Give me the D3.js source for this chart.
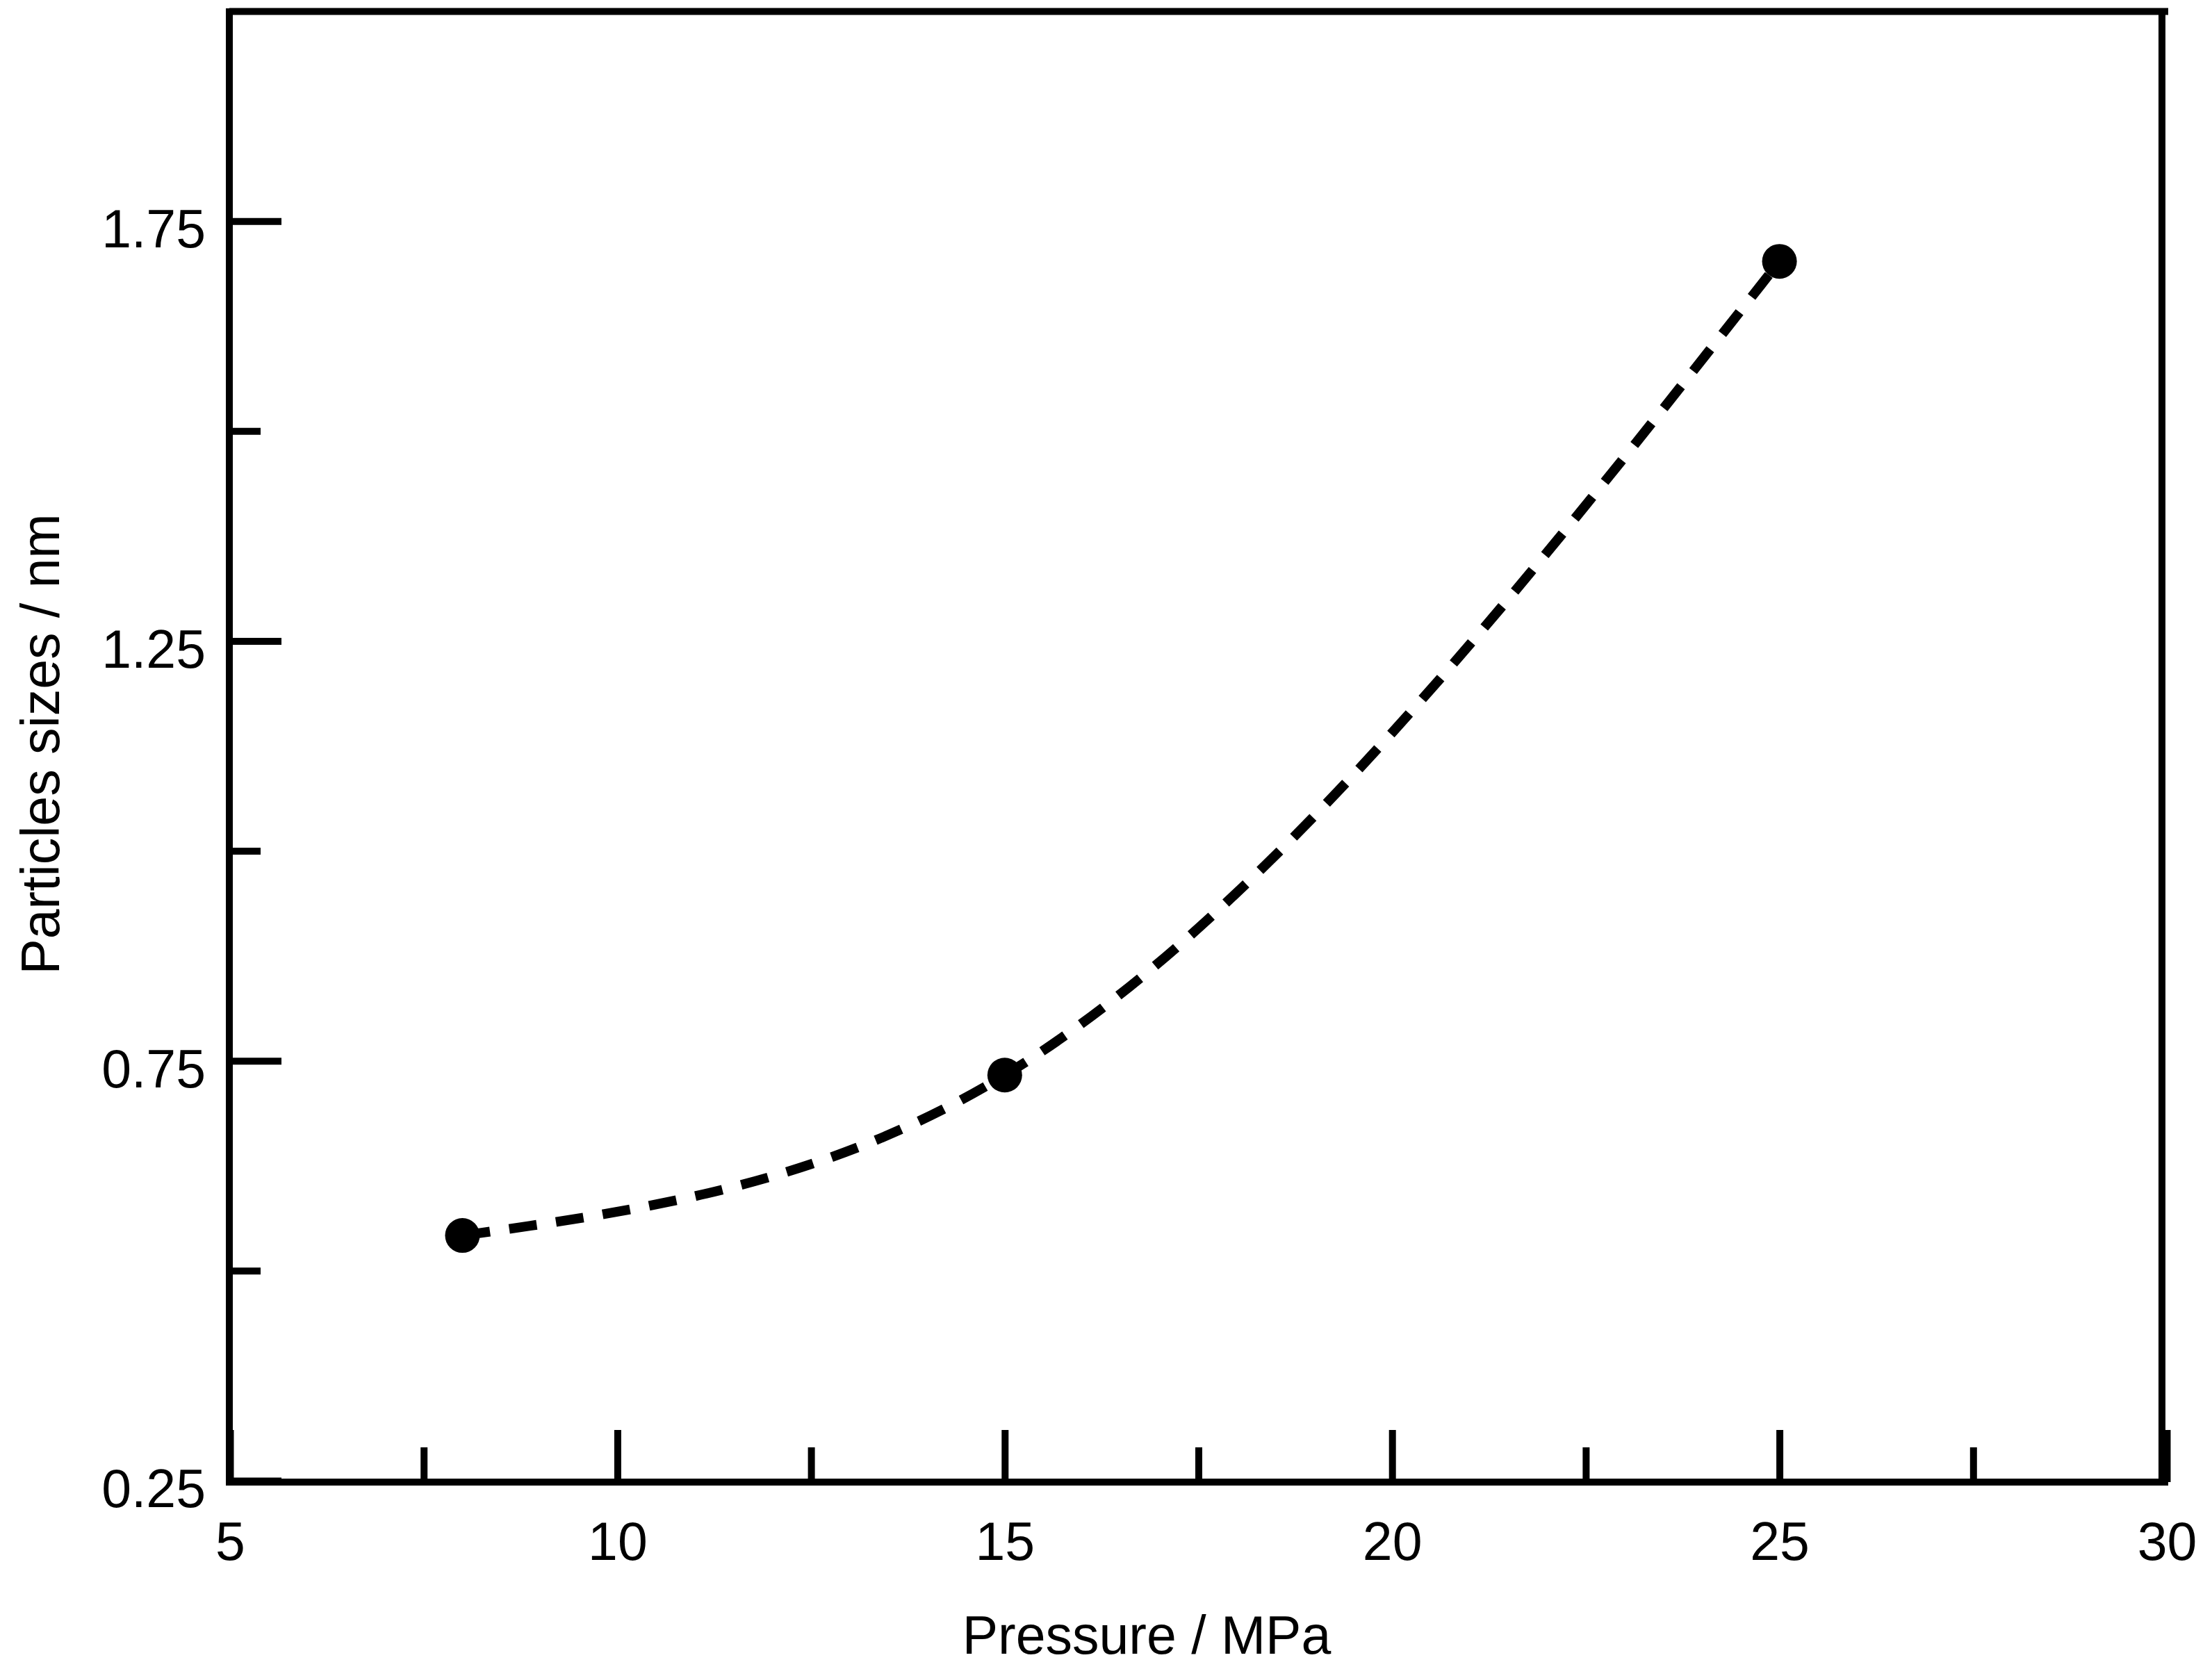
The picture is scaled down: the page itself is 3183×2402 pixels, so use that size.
<!DOCTYPE html>
<html>
<head>
<meta charset="utf-8">
<script src="https://cdn.jsdelivr.net/npm/d3@7"></script>
<style>
  html, body { margin: 0; padding: 0; background: #fff; }
  svg { display: block; }
  text { font-family: "Liberation Sans", Arial, sans-serif; fill: #000; }
</style>
</head>
<body>
<svg id="chart" width="3183" height="2402"></svg>
<script>
// ---- data ----
const pressure = [8, 15, 25];               // MPa
const particleSize = [0.542, 0.733, 1.702]; // nm
const xMajorTicks = [5, 10, 15, 20, 25, 30];
const xMinorTicks = [7.5, 12.5, 17.5, 22.5, 27.5];
const yMajorTicks = [0.25, 0.75, 1.25, 1.75];
const yMinorTicks = [0.5, 1.0, 1.5];
const xTitle = "Pressure / MPa";
const yTitle = "Particles sizes / nm";

(function () {
// ---- layout ----
const mLeft = 330, mRight = 3118, mTop = 16, mBottom = 2131;
const frameRight = 3111, frameBottom = 2133;
const fontSize = 77;
const lw = 10;

const svg = d3.select("#chart");

const x = d3.scaleLinear().domain([5, 30]).range([mLeft + 1, mRight]);
const y = d3.scaleLinear().domain([0.25, 2.0]).range([mBottom, mTop]);

// frame
const frame = svg.append("g").attr("stroke", "#000").attr("stroke-width", lw).attr("fill", "none");
frame.append("line").attr("x1", mLeft).attr("x2", mLeft).attr("y1", mTop - 4).attr("y2", frameBottom + 5);
frame.append("line").attr("x1", mLeft - 5).attr("x2", 3120).attr("y1", frameBottom).attr("y2", frameBottom);
frame.append("line").attr("x1", mLeft).attr("x2", 3120).attr("y1", mTop + 0.5).attr("y2", mTop + 0.5);
frame.append("line").attr("x1", frameRight).attr("x2", frameRight).attr("y1", mTop).attr("y2", frameBottom + 5);

// x axis
const xAxisG = svg.append("g").attr("transform", `translate(0,${frameBottom})`)
  .call(d3.axisBottom(x).tickValues(xMajorTicks).tickFormat(d3.format("d"))
        .tickSizeInner(-75).tickSizeOuter(0).tickPadding(57));
xAxisG.select(".domain").remove();
xAxisG.selectAll(".tick line").attr("stroke", "#000").attr("stroke-width", lw);
xAxisG.selectAll(".tick text").style("font-size", fontSize + "px").attr("fill", "#000")
  .style("font-family", '"Liberation Sans", Arial, sans-serif');

const xMinorG = svg.append("g").attr("transform", `translate(0,${frameBottom})`)
  .call(d3.axisBottom(x).tickValues(xMinorTicks).tickFormat("")
        .tickSizeInner(-50).tickSizeOuter(0));
xMinorG.select(".domain").remove();
xMinorG.selectAll(".tick line").attr("stroke", "#000").attr("stroke-width", lw);

// y axis
const yAxisG = svg.append("g").attr("transform", `translate(${mLeft},0)`)
  .call(d3.axisLeft(y).tickValues(yMajorTicks).tickFormat(d3.format(".2f"))
        .tickSizeInner(-75).tickSizeOuter(0).tickPadding(34));
yAxisG.select(".domain").remove();
yAxisG.selectAll(".tick line").attr("stroke", "#000").attr("stroke-width", lw);
yAxisG.selectAll(".tick text").style("font-size", fontSize + "px").attr("fill", "#000")
  .attr("dy", "0.49em")
  .style("font-family", '"Liberation Sans", Arial, sans-serif');

const yMinorG = svg.append("g").attr("transform", `translate(${mLeft},0)`)
  .call(d3.axisLeft(y).tickValues(yMinorTicks).tickFormat("")
        .tickSizeInner(-45).tickSizeOuter(0));
yMinorG.select(".domain").remove();
yMinorG.selectAll(".tick line").attr("stroke", "#000").attr("stroke-width", lw);

// titles
svg.append("text").attr("x", 1650).attr("y", 2380).attr("text-anchor", "middle")
  .style("font-size", fontSize + "px").text(xTitle);
svg.append("text").attr("transform", `translate(85,1071) rotate(-90)`).attr("text-anchor", "middle")
  .style("font-size", fontSize + "px").text(yTitle);

// natural cubic spline in x (functional), expressed as bezier segments
function curveNaturalX(context) {
  let xs = [], ys = [];
  return {
    areaStart() {}, areaEnd() {},
    lineStart() { xs = []; ys = []; },
    point(px, py) { xs.push(+px); ys.push(+py); },
    lineEnd() {
      const n = xs.length;
      if (!n) return;
      context.moveTo(xs[0], ys[0]);
      if (n === 2) { context.lineTo(xs[1], ys[1]); return; }
      const h = [], s = [];
      for (let i = 0; i < n - 1; i++) { h[i] = xs[i + 1] - xs[i]; s[i] = (ys[i + 1] - ys[i]) / h[i]; }
      const M = new Array(n).fill(0);
      const a = [], b = [], c = [], d = [];
      for (let i = 1; i < n - 1; i++) {
        a[i] = h[i - 1]; b[i] = 2 * (h[i - 1] + h[i]); c[i] = h[i]; d[i] = 6 * (s[i] - s[i - 1]);
      }
      for (let i = 2; i < n - 1; i++) {
        const w = a[i] / b[i - 1]; b[i] -= w * c[i - 1]; d[i] -= w * d[i - 1];
      }
      M[n - 2] = d[n - 2] / b[n - 2];
      for (let i = n - 3; i >= 1; i--) M[i] = (d[i] - c[i] * M[i + 1]) / b[i];
      for (let i = 0; i < n - 1; i++) {
        const d0 = s[i] - h[i] * (2 * M[i] + M[i + 1]) / 6;
        const d1 = s[i] + h[i] * (M[i] + 2 * M[i + 1]) / 6;
        context.bezierCurveTo(xs[i] + h[i] / 3, ys[i] + d0 * h[i] / 3,
                              xs[i + 1] - h[i] / 3, ys[i + 1] - d1 * h[i] / 3,
                              xs[i + 1], ys[i + 1]);
      }
    }
  };
}

const pts = pressure.map((p, i) => [p, particleSize[i]]);
const line = d3.line().x(d => x(d[0])).y(d => y(d[1])).curve(curveNaturalX);

svg.append("path").datum(pts).attr("d", line)
  .attr("fill", "none").attr("stroke", "#000").attr("stroke-width", 14)
  .attr("stroke-dasharray", "40,28");

svg.append("g").selectAll("circle").data(pts).join("circle")
  .attr("cx", d => x(d[0])).attr("cy", d => y(d[1])).attr("r", 25).attr("fill", "#000");
})();
</script>
</body>
</html>
